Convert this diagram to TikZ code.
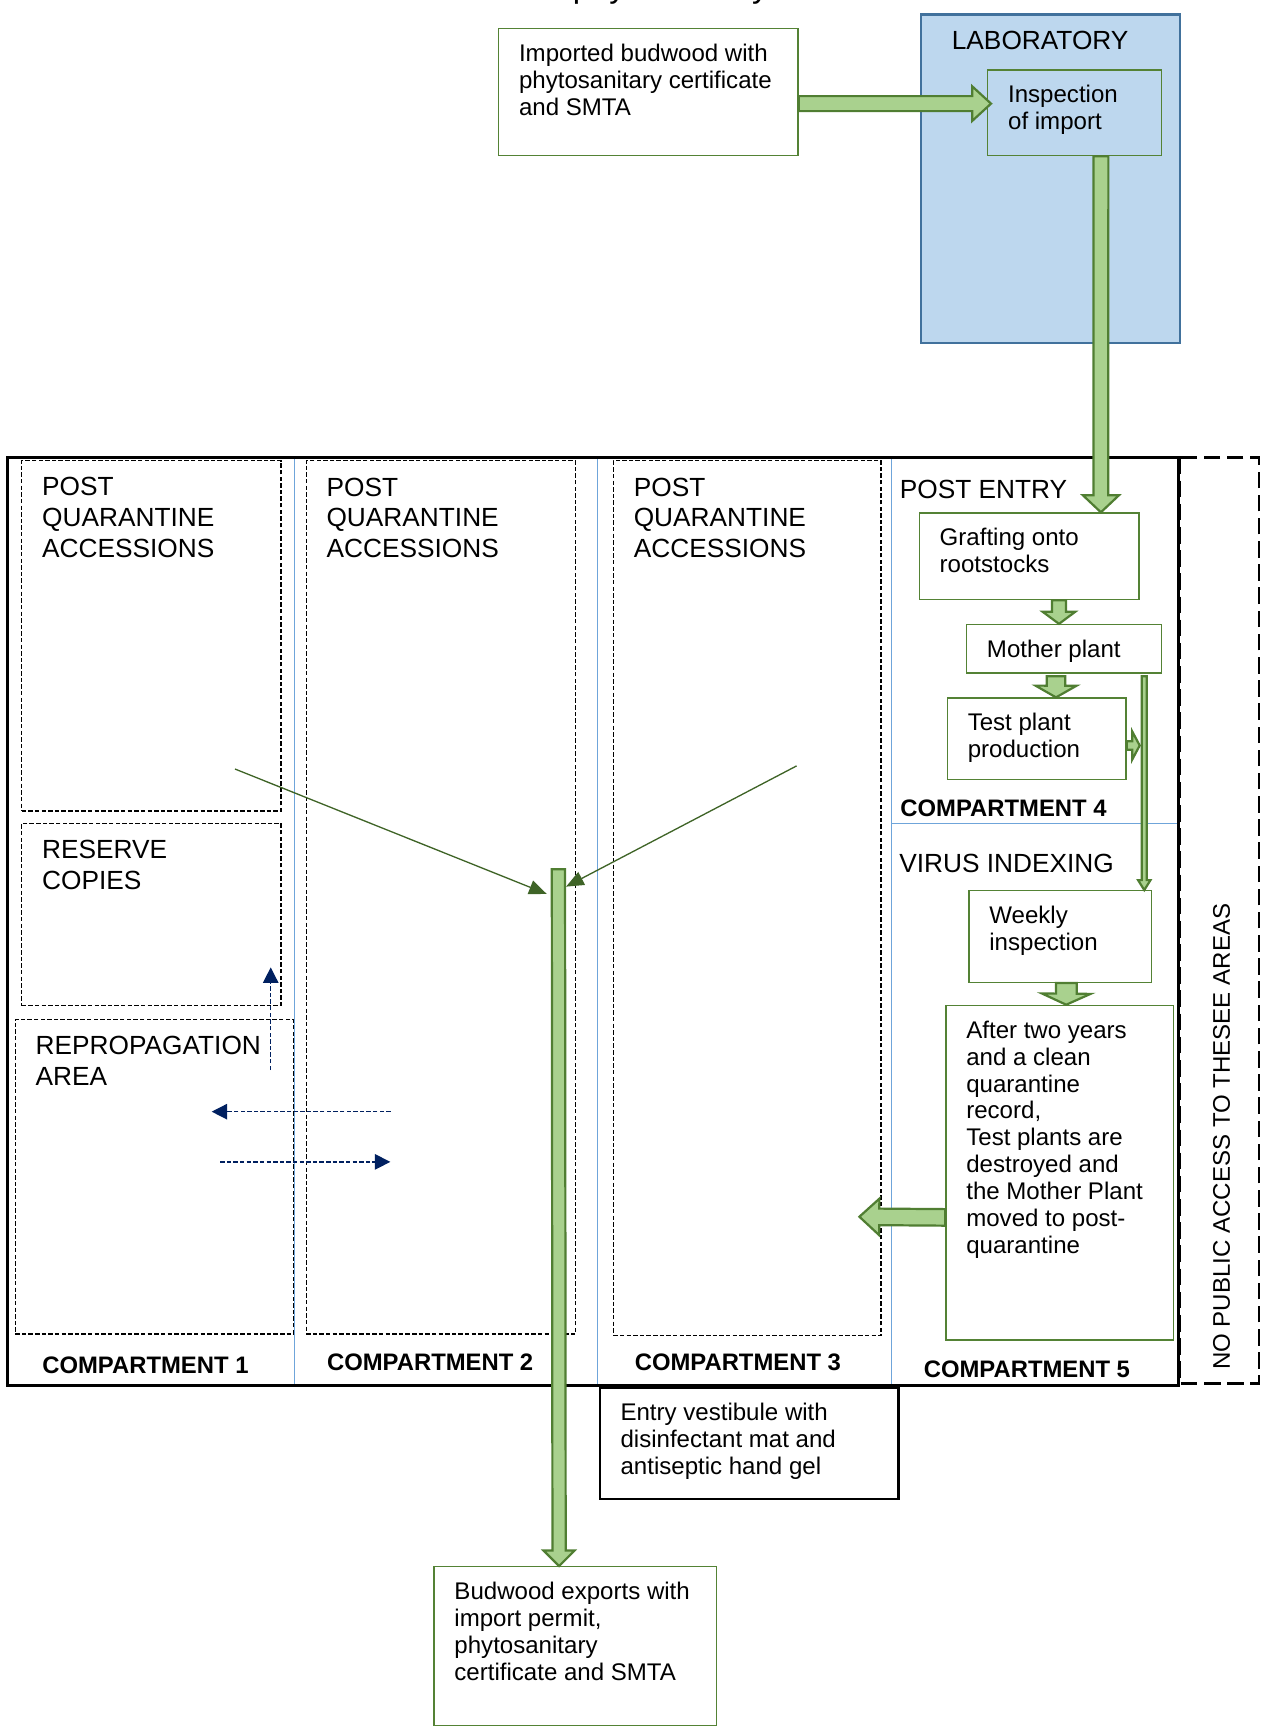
\documentclass[tikz,border=0pt]{standalone}
\usepackage{fontspec}
\setmainfont{Liberation Sans}
\usetikzlibrary{calc,arrows.meta}

\definecolor{boxgreen}{HTML}{548235}
\definecolor{arrowfill}{HTML}{A9D18E}
\definecolor{arrowline}{HTML}{507E32}
\definecolor{labfill}{HTML}{BDD7EE}
\definecolor{labline}{HTML}{41719C}
\definecolor{divblue}{HTML}{6FA5DA}
\definecolor{navy}{HTML}{002060}
\definecolor{linegreen}{HTML}{3F6427}

\newcommand{\bodyfont}{\fontsize{10.9}{12.2}\selectfont}
\newcommand{\headfont}{\fontsize{11.9}{13.85}\selectfont}
\newcommand{\compfont}{\fontsize{10.8}{12}\selectfont\bfseries}

\tikzset{
  tbox/.style 2 args={anchor=north west, inner xsep=9.25pt, inner ysep=6.3pt,
    execute at begin node={\begin{minipage}[t][\dimexpr #2pt/2-12.6pt\relax][t]{\dimexpr #1pt/2-18.5pt\relax}\raggedright\strut},
    execute at end node={\end{minipage}}},
  greenbox/.style={draw=boxgreen, line width=0.6pt, font=\bodyfont},
  areabox/.style={draw=black, line width=0.5pt, dash pattern=on 2pt off 1pt, font=\headfont},
  areatext/.style={anchor=base west, inner sep=0pt, font=\headfont},
  comptext/.style={anchor=base west, inner sep=0pt, font=\compfont},
  divider/.style={draw=divblue, line width=0.6pt},
  thinarrow/.style={draw=linegreen, line width=0.6pt, -{Triangle[length=8pt,width=6.5pt]}},
  movearrow/.style={draw=navy, line width=0.6pt, dash pattern=on 2pt off 1pt, -{Triangle[length=7pt,width=7pt]}},
  blockarrow/.style n args={3}{draw=arrowline, fill=arrowfill, line width=1pt, line join=miter,
    to path={
      ($(\tikztostart)!#1!90:(\tikztotarget)$)
      -- ($(\tikztotarget)!#3!(\tikztostart)!#1!90:(\tikztotarget)$)
      -- ($(\tikztotarget)!#3!(\tikztostart)!#2!90:(\tikztotarget)$)
      -- (\tikztotarget)
      -- ($(\tikztotarget)!#3!(\tikztostart)!#2!-90:(\tikztotarget)$)
      -- ($(\tikztotarget)!#3!(\tikztostart)!#1!-90:(\tikztotarget)$)
      -- ($(\tikztostart)!#1!-90:(\tikztotarget)$) -- cycle}},
}

\begin{document}
\begin{tikzpicture}[x=0.5pt,y=-0.5pt]
  \useasboundingbox (0,0) rectangle (1144.4,1568.5);
  \node[anchor=base west, inner sep=0pt, font=\fontsize{14.9}{17}\selectfont] (title) at (518.7,-2.7) {phytosanitary};

  \node[tbox={234.7}{297.5}, draw=labline, fill=labfill, line width=1pt, font=\headfont] (lab) at (833.7,12.1) {\hspace{4.65pt}LABORATORY};
  \node[tbox={271.3}{115}, greenbox] (imp) at (451.2,25.4) {Imported budwood with\\phytosanitary certificate\\and SMTA};
  \node[tbox={157.2}{77.6}, greenbox, fill=labfill] (insp) at (894.4,62.8) {Inspection\\of import};

  \draw[divider] (267,414.5) -- (267,1255.5);
  \draw[divider] (541.5,414.5) -- (541.5,1255.5);
  \draw[divider] (808,414.5) -- (808,1255.5);
  \draw[divider] (808,746) -- (1068,746);
  \draw[line width=1.3pt] (7,414.5) rectangle (1068,1255.5);
  \draw[line width=1.2pt, dash pattern=on 7.5pt off 3pt] (1069,414.5) rectangle (1140.8,1253.5);

  \node[tbox={234.9}{317.5}, areabox] (pqa1) at (19.2,416.9) {POST\\QUARANTINE\\ACCESSIONS};
  \node[tbox={234.9}{165.2}, areabox] (reserve) at (19.2,745.4) {RESERVE\\COPIES};
  \node[tbox={252}{285}, areabox] (repro) at (13.3,923.3) {REPROPAGATION\\AREA};
  \node[tbox={244.1}{791.3}, areabox] (pqa2) at (276.9,417) {POST\\QUARANTINE\\ACCESSIONS};
  \node[tbox={242.5}{793}, areabox] (pqa3) at (555.3,417) {POST\\QUARANTINE\\ACCESSIONS};

  \node[areatext] (postentry) at (815,452) {POST ENTRY};
  \node[areatext] (virus) at (814.5,790.5) {VIRUS INDEXING};
  \node[tbox={199.1}{78.5}, greenbox] (graft) at (832.4,464.2) {Grafting onto\\rootstocks};
  \node[tbox={176.8}{43.9}, greenbox] (mother) at (875.2,565.3) {Mother plant};
  \node[tbox={161.9}{74}, greenbox] (test) at (857.8,631.9) {Test plant\\production};
  \node[tbox={165.3}{83}, greenbox] (weekly) at (877.4,806.5) {Weekly\\inspection};
  \node[tbox={206.2}{303.2}, greenbox] (after) at (856.5,910.4) {After two years\\and a clean\\quarantine\\record,\\Test plants are\\destroyed and\\the Mother Plant\\moved to post-\\quarantine};

  \node[comptext] (comp1) at (38,1244.6) {COMPARTMENT 1};
  \node[comptext] (comp2) at (296,1241.7) {COMPARTMENT 2};
  \node[comptext] (comp3) at (574.8,1241.7) {COMPARTMENT 3};
  \node[comptext] (comp4) at (815.5,740) {COMPARTMENT 4};
  \node[comptext] (comp5) at (836.7,1248) {COMPARTMENT 5};
  \node[rotate=90, anchor=base west, inner sep=0pt, font=\fontsize{10.9}{12}\selectfont] (nopublic) at (1114.5,1241.7) {NO PUBLIC ACCESS TO THESEE AREAS};

  \node[tbox={270.6}{100.7}, draw=black, line width=1.2pt, font=\bodyfont] (vest) at (542.6,1256.3) {Entry vestibule with\\disinfectant mat and\\antiseptic hand gel};
  \node[tbox={256}{144}, greenbox] (bud) at (392.7,1419) {Budwood exports with\\import permit,\\phytosanitary\\certificate and SMTA};

  \coordinate (exptop) at (506,787.7);
  \coordinate (movetip) at (778.7,1102.5);
  \coordinate (ln1s) at (212.9,696.8);
  \coordinate (ln1e) at (495.4,810);
  \coordinate (ln2s) at (721.8,694);
  \coordinate (ln2e) at (512.9,803.4);
  \coordinate (ups) at (245.3,969.6);
  \coordinate (upe) at (245.3,876.6);
  \coordinate (lfs) at (354,1007.3);
  \coordinate (lfe) at (191.8,1007.3);
  \coordinate (rts) at (199.5,1052.8);
  \coordinate (rte) at (353.7,1052.8);

  \draw[blockarrow={3.4pt}{7.8pt}{8.5pt}] ([yshift=-5.2pt]imp.east) to ([xshift=1.8pt,yshift=4.15pt]insp.west);
  \draw[blockarrow={3.35pt}{8.15pt}{7.7pt}] ([xshift=12pt]insp.south) to ([xshift=32.5pt]graft.north);
  \draw[blockarrow={3.2pt}{7.4pt}{5.5pt}] ([xshift=13.5pt]graft.south) to ([xshift=-2.3pt]mother.north);
  \draw[blockarrow={4.2pt}{9.3pt}{5.3pt}] ([xshift=-3.65pt,yshift=-1.2pt]mother.south) to ([xshift=8.75pt]test.north);
  \draw[blockarrow={1.9pt}{6.3pt}{3.35pt}] ([yshift=-3pt]test.east) to ([xshift=5.9pt,yshift=-3pt]test.east);
  \draw[blockarrow={1.15pt}{2.8pt}{4.5pt}] ([xshift=36.3pt,yshift=-1.2pt]mother.south) to ([xshift=38.1pt]weekly.north);
  \draw[blockarrow={4.7pt}{11pt}{5pt}] ([xshift=2.8pt]weekly.south) to ([xshift=2.95pt]after.north);
  \draw[blockarrow={3.75pt}{8.25pt}{9pt}] ([yshift=-20.25pt]after.west) to (movetip);
  \draw[blockarrow={3pt}{7pt}{7pt}] (exptop) to ([xshift=-7.35pt]bud.north);

  \draw[thinarrow] (ln1s) -- (ln1e);
  \draw[thinarrow] (ln2s) -- (ln2e);
  \draw[movearrow] (ups) -- (upe);
  \draw[movearrow] (lfs) -- (lfe);
  \draw[movearrow] (rts) -- (rte);
\end{tikzpicture}
\end{document}
